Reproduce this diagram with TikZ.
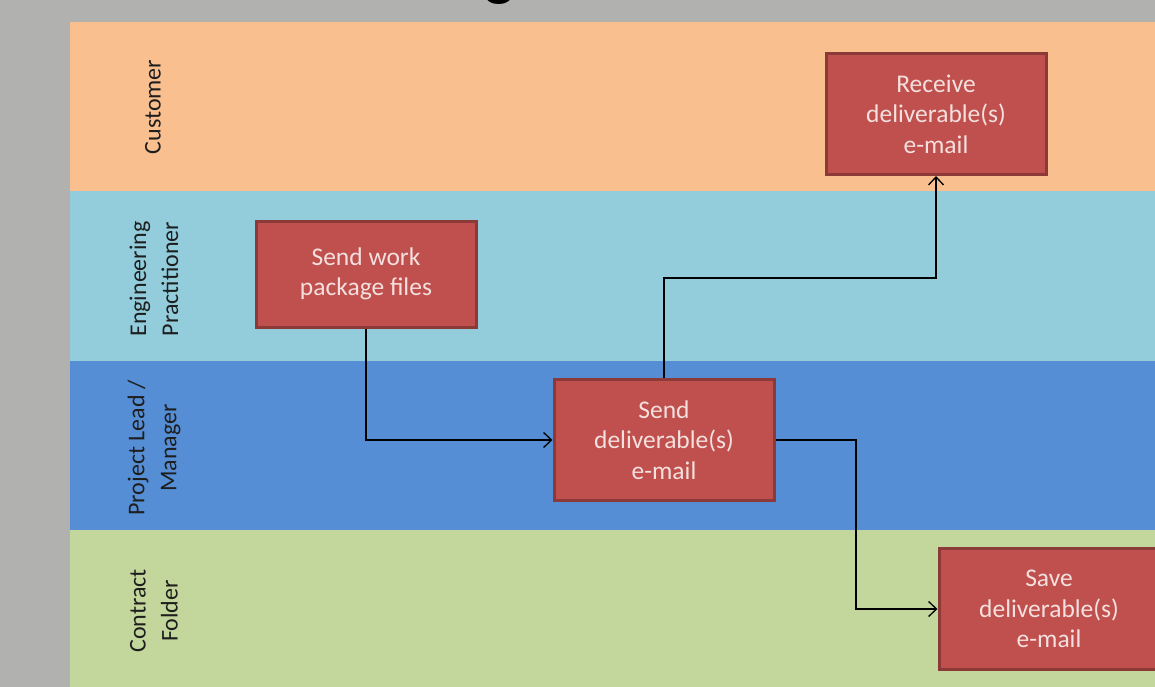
\documentclass[tikz,border=0pt]{standalone}
\usepackage{fontspec}
\setmainfont{Carlito}
\usetikzlibrary{arrows.meta, positioning}

\definecolor{pagegray}{HTML}{B1B1B0}
\definecolor{laneorange}{HTML}{F9BF8F}
\definecolor{lanecyan}{HTML}{93CDDC}
\definecolor{laneblue}{HTML}{558ED5}
\definecolor{lanegreen}{HTML}{C3D69B}
\definecolor{boxred}{HTML}{C0504D}
\definecolor{boxedge}{HTML}{8C3A38}
\definecolor{boxtext}{HTML}{F4E0DE}
\definecolor{labeltext}{HTML}{1E1E1E}

\begin{document}
\begin{tikzpicture}[x=1pt, y=-1pt,
    lanelabel/.style={rotate=90, align=center, text=labeltext, font=\fontsize{24}{32}\selectfont},
    task/.style={rectangle, fill=boxred, draw=boxedge, line width=3pt, minimum width=220pt,
        minimum height=121pt, align=center, text=boxtext, font=\fontsize{25.5}{30.5}\selectfont},
    flow/.style={draw=black, line width=1.3pt, -{Straight Barb[length=8pt, width=15pt]}}]
    \useasboundingbox (0,0) rectangle (1155,687);
    \fill[pagegray] (0,0) rectangle (1155,687);

    % title, only its lowest stroke is left on the page
    \node[anchor=base, font=\fontsize{64}{64}\selectfont] (title) at (500,-6) {g};

    % swim lanes
    \fill[laneorange] (70,22) rectangle (1155,191);
    \fill[lanecyan] (70,191) rectangle (1155,361);
    \fill[laneblue] (70,361) rectangle (1155,530);
    \fill[lanegreen] (70,530) rectangle (1155,687);

    % lane names
    \node[lanelabel] (customer) at (153,107) {Customer};
    \node[lanelabel] (practitioner) at (154,279) {Engineering\\Practitioner};
    \node[lanelabel] (manager) at (154,448) {Project Lead /\\Manager};
    \node[lanelabel] (folder) at (154,611) {Contract\\Folder};

    % tasks
    \node[task, minimum height=106pt] (work) at (366,274) {Send work\\package files};
    \node[task] (send) at (664,440) {Send\\deliverable(s)\\e-mail};
    \node[task] (receive) at (936,114) {Receive\\deliverable(s)\\e-mail};
    \node[task] (save) at (1049,609) {Save\\deliverable(s)\\e-mail};

    % hand-offs between lanes
    \coordinate (up) at (800,278);
    \coordinate (down) at (856,520);
    \draw[flow] (work.south) |- (send.west);
    \draw[flow] (send.north) |- (up) -| (receive.south);
    \draw[flow] (send.east) -| (down) |- (save.west);
\end{tikzpicture}
\end{document}
